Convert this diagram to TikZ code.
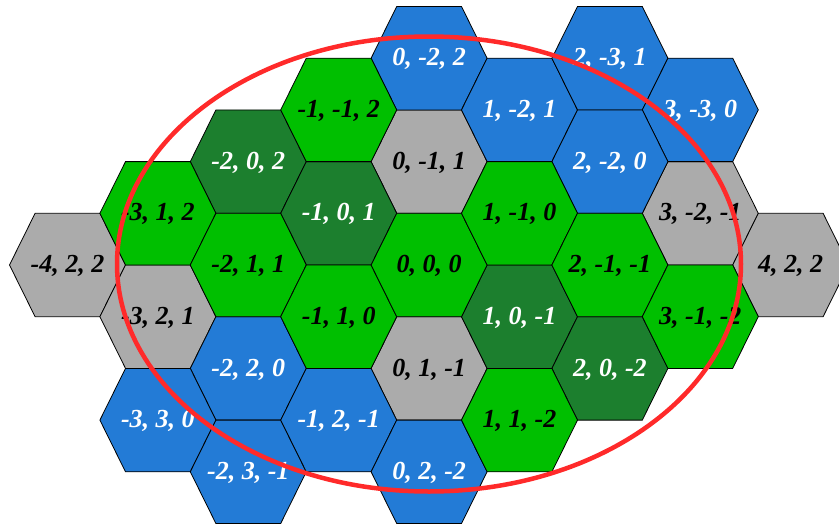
\documentclass[tikz,border=0pt]{standalone}
\usepackage{fontspec}
\setmainfont{Liberation Serif}
\usetikzlibrary{shapes.geometric}
\definecolor{cellgray}{RGB}{171,171,171}
\definecolor{cellblue}{RGB}{35,123,214}
\definecolor{celldark}{RGB}{28,127,46}
\definecolor{cellgreen}{RGB}{0,191,0}
\definecolor{ringred}{RGB}{255,42,42}
\tikzset{
  hexline/.style={draw=black, line width=0.8pt, line join=miter},
  hexlabel/.style={font=\bfseries\itshape\fontsize{26}{30}\selectfont, inner sep=0pt},
  ring/.style={draw=ringred, line width=4.5pt}
}
\begin{document}
\begin{tikzpicture}[x=1pt,y=-1pt]
\useasboundingbox (0,0) rectangle (839,525);
\clip (0,0) rectangle (839,525);
\foreach \q/\r/\fc/\tc/\lab [count=\i] in {
  -4/2/cellgray/black/{-4, 2, 2},
  -3/2/cellgray/black/{-3, 2, 1},
  0/-1/cellgray/black/{0, -1, 1},
  0/1/cellgray/black/{0, 1, -1},
  3/-2/cellgray/black/{3, -2, -1},
  4/-2/cellgray/black/{4, 2, 2},
  0/-2/cellblue/white/{0, -2, 2},
  1/-2/cellblue/white/{1, -2, 1},
  2/-3/cellblue/white/{2, -3, 1},
  3/-3/cellblue/white/{3, -3, 0},
  2/-2/cellblue/white/{2, -2, 0},
  -2/2/cellblue/white/{-2, 2, 0},
  -3/3/cellblue/white/{-3, 3, 0},
  -2/3/cellblue/white/{-2, 3, -1},
  -1/2/cellblue/white/{-1, 2, -1},
  0/2/cellblue/white/{0, 2, -2},
  -2/0/celldark/white/{-2, 0, 2},
  -1/0/celldark/white/{-1, 0, 1},
  1/0/celldark/white/{1, 0, -1},
  2/0/celldark/white/{2, 0, -2},
  -1/-1/cellgreen/black/{-1, -1, 2},
  -3/1/cellgreen/black/{-3, 1, 2},
  -2/1/cellgreen/black/{-2, 1, 1},
  -1/1/cellgreen/black/{-1, 1, 0},
  0/0/cellgreen/black/{0, 0, 0},
  1/-1/cellgreen/black/{1, -1, 0},
  2/-1/cellgreen/black/{2, -1, -1},
  3/-1/cellgreen/black/{3, -1, -2},
  1/1/cellgreen/black/{1, 1, -2}}{
  \pgfmathsetmacro{\cx}{429.1+90.4*\q}
  \pgfmathsetmacro{\cy}{265+51.7*(2*\r+\q)}
  \filldraw[hexline, fill=\fc]
    (\cx-58,\cy) -- (\cx-32.4,\cy-51.7) -- (\cx+32.4,\cy-51.7) --
    (\cx+58,\cy) -- (\cx+32.4,\cy+51.7) -- (\cx-32.4,\cy+51.7) -- cycle;
  \node[hexlabel, text=\tc] (cell\i) at (\cx,\cy+1) {\lab};
}
\node[ring, ellipse, minimum width=624pt, minimum height=455pt, inner sep=0pt] (ring) at (429,264) {};
\end{tikzpicture}
\end{document}
